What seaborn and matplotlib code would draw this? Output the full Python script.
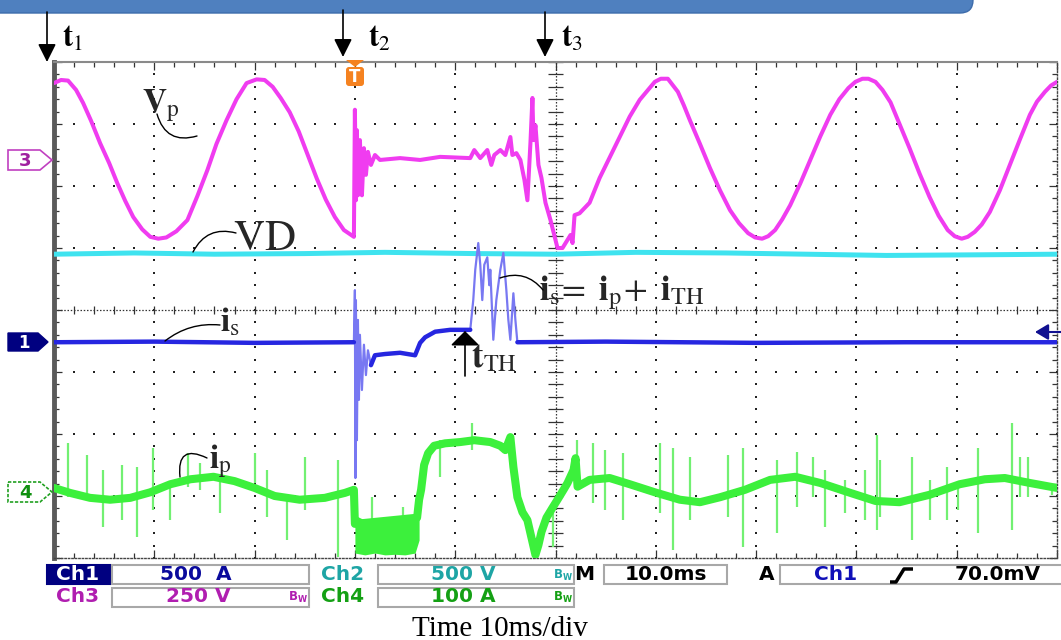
import numpy as np
import matplotlib
matplotlib.use('Agg')
import matplotlib.pyplot as plt
import seaborn as sns
from matplotlib.patches import Rectangle, Polygon, FancyBboxPatch

# ---------------- data: time in ms (10 ms/div), amplitude in screen divisions ----------------
# Ch3 : primary voltage v_p (magenta)
vp_t = [0, 0.7, 1.4, 2.2, 2.9, 3.7, 4.6, 5.5, 6.3, 7.1, 7.9, 8.8, 9.6, 10.4, 11.2, 12.2, 13.3, 14.3, 15.3, 16.2,
        17.2, 18.2, 19.2, 20.2, 21.0, 21.8, 22.6, 23.5, 24.4, 25.3, 26.2, 27.1, 28.0, 28.9, 29.9,
        30.0, 30.1, 30.2, 30.3, 30.5, 30.7, 30.9, 31.1, 31.3, 31.6, 32.0, 32.5, 34.5, 36.5, 38.5, 41.5, 41.9, 42.5,
        43.2, 43.6, 43.9, 44.5, 45.0, 45.5, 45.7, 46.1, 46.5, 46.9, 47.2, 47.5, 47.7, 47.8, 48.0, 48.3, 48.6, 49.0,
        49.5, 50.0, 50.2, 50.7, 51.2, 51.5, 51.7, 51.9, 52.4, 53.4, 54.4, 55.4, 56.4, 57.4, 58.4, 59.9, 60.5, 61.2,
        62.2, 62.8, 63.4, 64.4, 65.4, 66.4, 67.4, 68.3, 69.2, 69.9, 70.6, 71.2, 71.9, 72.6, 73.4, 74.4, 75.4, 76.4,
        77.4, 78.3, 79.2, 79.9, 80.6, 81.2, 81.9, 82.6, 83.4, 84.3, 85.3, 86.3, 87.3, 88.2, 89.1, 89.8, 90.5, 91.1,
        91.8, 92.5, 93.3, 94.3, 95.3, 96.3, 97.3, 98.0, 98.8, 99.4, 100]
vp_v = [3.66, 3.71, 3.70, 3.55, 3.34, 3.05, 2.69, 2.37, 2.05, 1.76, 1.50, 1.30, 1.18, 1.15, 1.17, 1.27, 1.45, 1.84,
        2.26, 2.68, 3.06, 3.40, 3.66, 3.72, 3.71, 3.60, 3.42, 3.19, 2.88, 2.50, 2.12, 1.78, 1.50, 1.29, 1.18,
        3.23, 1.77, 2.90, 1.85, 2.74, 1.85, 2.61, 2.18, 2.55, 2.34, 2.50, 2.42, 2.45, 2.42, 2.47, 2.45, 2.58, 2.45,
        2.58, 2.34, 2.50, 2.58, 2.50, 2.79, 2.50, 2.53, 2.42, 2.10, 1.77, 2.69, 3.42, 2.74, 2.98, 2.34, 2.13, 1.73,
        1.45, 1.13, 1.00, 1.00, 1.13, 1.21, 1.08, 1.53, 1.56, 1.73, 2.13, 2.46, 2.79, 3.12, 3.39, 3.68, 3.73, 3.73,
        3.52, 3.30, 3.06, 2.68, 2.29, 1.93, 1.61, 1.40, 1.24, 1.17, 1.15, 1.19, 1.29, 1.46, 1.69, 2.04, 2.42, 2.80,
        3.15, 3.40, 3.58, 3.68, 3.73, 3.73, 3.68, 3.55, 3.35, 3.00, 2.61, 2.20, 1.82, 1.52, 1.29, 1.19, 1.15, 1.18,
        1.26, 1.38, 1.58, 1.93, 2.34, 2.75, 3.15, 3.36, 3.52, 3.62, 3.68]

# Ch2 : VD (cyan)
vd_t = [0, 8, 16, 25, 33, 42, 50, 58, 67, 75, 83, 92, 100]
vd_v = [0.90, 0.92, 0.90, 0.91, 0.93, 0.91, 0.90, 0.93, 0.92, 0.90, 0.88, 0.89, 0.90]

# Ch1 : i_s (blue)
is_t = [0, 10, 20, 29.9, 30.0, 30.05, 30.1, 30.2, 30.3, 30.4, 30.5, 30.7, 30.9, 31.1, 31.3, 31.6, 32.0, 33.0, 34.5,
        36.0, 36.5, 37.0, 38.0, 39.5, 41.5, 41.8, 42.0, 42.3, 42.5, 42.7, 42.9, 43.2, 43.4, 43.5, 43.8, 44.1, 44.5,
        44.8, 45.1, 45.3, 45.5, 45.8, 46.0, 46.2, 55, 70, 85, 100]
is_v = [-0.52, -0.51, -0.53, -0.52, 0.32, -2.71, 0.16, -2.10, -0.16, -1.45, -0.40, -1.29, -0.56, -1.05, -0.65, -0.89,
        -0.73, -0.71, -0.69, -0.73, -0.53, -0.44, -0.35, -0.32, -0.32, 0.16, 0.65, 1.08, 0.73, 0.16, 0.73, 0.85, 0.40,
        0.65, -0.48, 0.16, 0.65, 0.92, 0.32, -0.16, -0.48, 0.27, -0.16, -0.52, -0.51, -0.53, -0.52, -0.52]

# Ch4 : i_p (green)
ip_t = [0, 1.6, 3.6, 5.6, 7.6, 9.6, 11.6, 13.6, 15.9, 18.0, 20.0, 22.0, 24.5, 27.0, 29.0, 29.9, 30.0, 36.2,
        36.4, 36.6, 36.9, 37.3, 37.9, 39.0, 40.5, 41.9, 43.5, 44.5, 45.0, 45.5, 45.8, 46.2, 46.7, 47.2, 47.7, 48.0,
        48.3, 48.6, 49.1, 49.7, 50.2, 50.8, 51.2, 51.8, 52.0, 52.2, 53.4, 55.4, 57.4, 59.9, 62.4, 64.4, 66.4, 68.9,
        71.4, 73.9, 76.4, 79.4, 81.9, 84.3, 87.3, 90.3, 92.8, 94.8, 97.3, 100]
ip_v = [-2.87, -2.95, -3.03, -3.06, -3.03, -2.94, -2.81, -2.73, -2.69, -2.76, -2.87, -3.00, -3.06, -3.03, -2.95,
        -2.90, -3.45, -3.35,
        -3.06, -2.90, -2.50, -2.31, -2.19, -2.15, -2.13, -2.10, -2.13, -2.19, -2.26, -2.05, -2.53, -3.02, -3.26,
        -3.39, -3.74, -3.95, -3.79, -3.58, -3.35, -3.19, -3.06, -2.90, -2.79, -2.58, -2.39, -2.85, -2.74, -2.71,
        -2.81, -2.94, -3.06, -3.10, -3.02, -2.90, -2.74, -2.69, -2.79, -2.95, -3.08, -3.10, -2.98, -2.81, -2.73,
        -2.71, -2.79, -2.87]
# noisy low band of i_p right after t2
ipb_t = [30.0, 31.0, 32.0, 33.0, 34.0, 35.0, 36.0, 36.4]
ipb_hi = [-3.31, -3.39, -3.35, -3.42, -3.39, -3.39, -3.31, -3.15]
ipb_lo = [-3.92, -3.95, -3.92, -3.95, -3.94, -3.95, -3.92, -3.71]
# switching spikes on i_p
sp_t = [1.4, 3.3, 4.9, 6.8, 8.3, 9.9, 11.6, 13.4, 14.6, 16.6, 20.0, 21.2, 23.2, 25.0, 28.3, 31.7, 34.8, 38.5, 41.7,
        49.8, 52.1, 53.7, 54.9, 56.7, 60.4, 61.7, 63.4, 67.2, 68.7, 72.1, 74.1, 75.7, 76.9, 78.9, 80.9, 82.1, 82.4,
        85.5, 87.3, 89.0, 90.1, 92.1, 95.5, 96.3, 97.1, 99.5]
sp_hi = [-2.15, -2.34, -2.58, -2.50, -2.53, -2.23, -2.79, -2.31, -2.47, -2.69, -2.31, -2.58, -3.02, -2.37, -2.42,
         -3.02, -3.18, -2.10, -1.82, -3.15, -2.10, -2.15, -2.26, -2.31, -2.15, -2.23, -2.37, -2.34, -2.23, -2.42,
         -2.29, -2.37, -2.58, -2.74, -2.58, -2.02, -2.42, -2.37, -2.74, -2.53, -2.77, -2.23, -1.82, -2.37, -2.37,
         -2.82]
sp_lo = [-3.02, -3.06, -3.50, -3.39, -3.66, -3.23, -3.39, -2.85, -2.90, -3.27, -2.79, -3.34, -3.71, -3.23, -3.98,
         -3.71, -3.71, -2.69, -2.26, -3.82, -2.58, -3.11, -3.23, -3.39, -3.27, -3.87, -3.39, -3.34, -3.82, -3.60,
         -3.18, -3.02, -3.50, -3.27, -3.39, -3.55, -3.34, -3.71, -3.39, -3.39, -3.23, -3.60, -3.55, -3.02, -3.02,
         -2.98]

# ---------------- style ----------------
sns.set_theme(style='white')
plt.rcParams['font.family'] = ['DejaVu Sans']
plt.rcParams['mathtext.fontset'] = 'stix'

MAG, CYA, BLU, BLU_L, GRN, GRN_L = '#f03cf0', '#3fe3ef', '#2626e0', '#7878f2', '#3cf03c', '#72f072'

W, H = 1061, 640
fig = plt.figure(figsize=(W / 100, H / 100), dpi=100)
fig.patch.set_facecolor('white')
L, R, T, B = 54, 1057, 62, 558
ax = fig.add_axes([L / W, 1 - B / H, (R - L) / W, (B - T) / H])
ax.set_facecolor('white')

# graticule
gx, gy = np.meshgrid([10, 20, 30, 40, 60, 70, 80, 90], np.arange(-4, 4.01, 0.2))
ax.scatter(gx.ravel(), gy.ravel(), s=2.2, marker='s', c='#222222', lw=0, zorder=1)
hx, hy = np.meshgrid(np.arange(0, 100.1, 2), [-3, -2, -1, 1, 2, 3])
ax.scatter(hx.ravel(), hy.ravel(), s=2.2, marker='s', c='#222222', lw=0, zorder=1)
ax.axhline(0, color='#333333', lw=0.9, ls=(0, (1.2, 1.4)), zorder=1)
ax.axvline(50, color='#333333', lw=0.9, ls=(0, (1.2, 1.4)), zorder=1)
ax.vlines(np.arange(0, 100.1, 2), -0.07, 0.07, color='#333333', lw=0.9, zorder=1)
ax.hlines(np.arange(-4, 4.01, 0.2), 49.3, 50.7, color='#333333', lw=0.9, zorder=1)

# traces
sns.lineplot(x=vd_t, y=vd_v, ax=ax, color=CYA, lw=3.6, sort=False, estimator=None, zorder=3)
sns.lineplot(x=vp_t, y=vp_v, ax=ax, color=MAG, lw=2.9, sort=False, estimator=None, zorder=3)
ax.vlines(sp_t, sp_lo, sp_hi, colors=GRN_L, lw=1.6, zorder=3)
sns.lineplot(x=ip_t, y=ip_v, ax=ax, color=GRN, lw=5.8, sort=False, estimator=None, zorder=4)
ax.fill_between(ipb_t, ipb_lo, ipb_hi, color=GRN, lw=0, zorder=4)

ist = np.array(is_t)
isv = np.array(is_v)

def is_segment(lo, hi, color, lw, z):
    m = (ist >= lo) & (ist <= hi)
    sns.lineplot(x=ist[m], y=isv[m], ax=ax, color=color, lw=lw, sort=False, estimator=None, zorder=z)

is_segment(29.9, 32.0, BLU_L, 1.6, 5)
is_segment(41.5, 46.2, BLU_L, 1.6, 5)
is_segment(0, 29.9, BLU, 3.2, 6)
is_segment(31.6, 41.5, BLU, 3.2, 6)
is_segment(46.2, 100, BLU, 3.2, 6)

ax.set_xlim(0, 100)
ax.set_ylim(-4, 4)
ax.set_xlabel('')
ax.set_ylabel('')
ax.set_xticks(np.arange(0, 101, 10))
ax.set_xticks(np.arange(0, 101, 2), minor=True)
ax.set_yticks(np.arange(-4, 5, 1))
ax.set_yticks(np.arange(-4, 4.01, 0.2), minor=True)
ax.tick_params(which='both', direction='in', top=True, bottom=True, left=True, right=True,
               labelbottom=False, labelleft=False, color='#333333', width=0.9)
ax.tick_params(which='major', length=6)
ax.tick_params(which='minor', length=3.5)
ax.spines['left'].set(color='#5a5a5a', lw=3.5)
ax.spines['top'].set(color='#8a8a8a', lw=1.5)
for s in ['right', 'bottom']:
    ax.spines[s].set(color='#444444', lw=1.0, ls=(0, (1, 1.5)))

# ---------------- overlay (pixel coordinates) ----------------
ov = fig.add_axes([0, 0, 1, 1], zorder=10)
ov.set_xlim(0, W)
ov.set_ylim(H, 0)
ov.axis('off')
ov.patch.set_alpha(0)

ov.add_patch(FancyBboxPatch((-30, -20), 1003, 33, boxstyle='round,pad=0,rounding_size=13',
                            fc='#4f80bf', ec='#3d6cab', lw=1))

# time markers
for x, y0, y1, lab, lx in [(47, 12, 62, '1', 62), (343, 10, 57, '2', 368), (545, 12, 57, '3', 561)]:
    ov.annotate('', xy=(x, y1), xytext=(x, y0),
                arrowprops=dict(arrowstyle='-|>,head_length=0.5,head_width=0.25', color='black', lw=1.2,
                                shrinkA=0, shrinkB=0, mutation_scale=22))
    ov.text(lx, 47, r'$\mathbf{t}_{\mathrm{' + lab + '}}$', fontsize=22, va='baseline', ha='left', color='black')

# channel markers
ov.add_patch(Polygon([(8, 150), (40, 150), (52, 160), (40, 170), (8, 170)], closed=True, fc='white',
                     ec='#c040c0', lw=1.2))
ov.text(25, 160.5, '3', color='#a020a0', fontsize=13, fontweight='bold', ha='center', va='center')
ov.add_patch(Polygon([(8, 333), (38, 333), (48, 342), (38, 351), (8, 351)], closed=True, fc='#000080', ec='#000080'))
ov.text(24, 342.5, '1', color='white', fontsize=12, fontweight='bold', ha='center', va='center')
ov.add_patch(Polygon([(8, 482), (40, 482), (52, 492), (40, 502), (8, 502)], closed=True, fc='white',
                     ec='#20a020', lw=1.2, ls=(0, (2, 1))))
ov.text(25, 492.5, '4', color='#109010', fontsize=13, fontweight='bold', ha='center', va='center')

# trigger marker
ov.add_patch(Polygon([(346, 60), (364, 60), (355, 67)], closed=True, fc='#f58220', ec='none'))
ov.add_patch(FancyBboxPatch((346, 67), 18, 19, boxstyle='round,pad=0,rounding_size=3', fc='#f58220', ec='none'))
ov.text(355, 77, 'T', color='white', fontsize=12, fontweight='bold', ha='center', va='center')
ov.annotate('', xy=(1035, 332), xytext=(1063, 332),
            arrowprops=dict(arrowstyle='-|>,head_length=0.5,head_width=0.3', color='#101090', lw=1.5,
                            shrinkA=0, shrinkB=0, mutation_scale=16))

# trace labels and leaders
def leader(start, end, rad):
    ov.annotate('', xy=end, xytext=start,
                arrowprops=dict(arrowstyle='-', connectionstyle=f'arc3,rad={rad}', color='black', lw=1.0,
                                shrinkA=0, shrinkB=0))

ov.text(142, 112, r'$\mathbf{V}_{\mathrm{p}}$', fontsize=24, va='baseline', ha='left')
leader((157, 114), (197, 136), 0.5)
ov.text(233, 250, r'$\mathrm{VD}$', fontsize=31, va='baseline', ha='left')
leader((193, 252), (236, 233), -0.4)
ov.text(220, 331, r'$\mathbf{i}_{\mathrm{s}}$', fontsize=24, va='baseline', ha='left')
leader((165, 341), (220, 325), -0.2)
ov.text(209, 468, r'$\mathbf{i}_{\mathrm{p}}$', fontsize=24, va='baseline', ha='left')
leader((180, 477), (207, 458), -0.9)
ov.text(539, 300, r'$\mathbf{i}_{\mathrm{s}}\!=\ \mathbf{i}_{\mathrm{p}}\!+\ \mathbf{i}_{\mathrm{TH}}$', fontsize=25,
        va='baseline', ha='left')
leader((500, 278), (543, 290), -0.35)
ov.annotate('', xy=(465, 331), xytext=(465, 376),
            arrowprops=dict(arrowstyle='-|>,head_length=0.45,head_width=0.45', color='black', lw=1.2,
                            shrinkA=0, shrinkB=0, mutation_scale=20))
ov.text(471, 367, r'$\mathbf{t}_{\mathrm{TH}}$', fontsize=25, va='baseline', ha='left')

# status bar
def box(x0, y0, x1, y1, fc='white', ec='#a8a8a8'):
    ov.add_patch(Rectangle((x0, y0), x1 - x0, y1 - y0, fc=fc, ec=ec, lw=1.5))

def st(x, y, s, color, size=14.5):
    ov.text(x, y, s, color=color, fontsize=size, fontweight='bold', ha='center', va='center',
            family='DejaVu Sans')

def bw(x, y, color):
    ov.text(x, y, r'$\mathregular{B_W}$', color=color, fontsize=8.5, fontweight='bold', ha='center', va='center')

C1, C2, C3, C4 = '#0a0a9c', '#1ea5a5', '#b01eb0', '#14a014'
box(47, 565, 110, 584, fc='#000080', ec='#000080')
box(112, 565, 309, 584)
box(378, 565, 574, 584)
box(604, 565, 727, 584)
box(780, 565, 1070, 584)
box(112, 588, 309, 607)
box(378, 588, 574, 607)
st(78, 575, 'Ch1', 'white')
st(196, 575, '500  A', C1)
st(343, 575, 'Ch2', C2)
st(463, 575, '500 V', C2)
bw(563, 575, C2)
st(584, 575, 'M', 'black')
st(666, 575, '10.0ms', 'black')
st(767, 575, 'A', 'black')
st(836, 575, 'Ch1', '#1010b8')
ov.plot([890, 896, 904, 913], [582, 582, 569, 569], color='black', lw=2.5, solid_capstyle='butt')
st(998, 575, '70.0mV', 'black')
st(78, 597, 'Ch3', C3)
st(198, 597, '250 V', C3)
bw(298, 597, C3)
st(343, 597, 'Ch4', C4)
st(463, 597, '100 A', C4)
bw(563, 597, C4)

ov.text(500, 636, 'Time 10ms/div', family='Liberation Serif', fontsize=21, ha='center', va='baseline',
        color='black')

fig.savefig('out.png', dpi=100)
